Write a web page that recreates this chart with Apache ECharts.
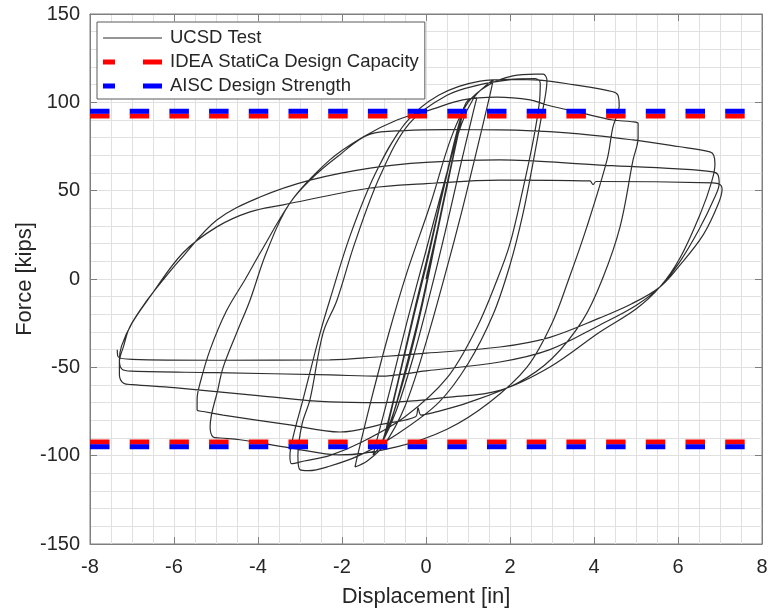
<!DOCTYPE html>
<html>
<head>
<meta charset="utf-8">
<script src="https://cdn.jsdelivr.net/npm/echarts@6/dist/echarts.min.js"></script>
<style>
  html, body { margin: 0; padding: 0; background: #ffffff; }
  #chart { width: 769px; height: 612px; }
</style>
</head>
<body>
<div id="chart"></div>
<script>
// Axis ranges and tick spacing
const xRange = [-8, 8];
const xStep = 2;
const yRange = [-150, 150];
const yStep = 50;

// Design capacity levels [kips]
const ideaCapacity = 92.2;
const aiscStrength = 95.0;

// Measured force-displacement response, [displacement in, force kips], in loading order
const elasticCycles = [
  [0, 0], [0.25, 26], [0.5, 52], [0.72, 78], [0.85, 92], [0.78, 84], [0.5, 54], [0.2, 20],
  [-0.1, -14], [-0.45, -48], [-0.75, -74], [-0.98, -89], [-0.9, -82], [-0.6, -52], [-0.3, -22],
  [0.05, 12], [0.35, 44], [0.65, 74], [0.9, 97], [0.82, 88], [0.55, 58], [0.25, 24], [-0.1, -16],
  [-0.45, -50], [-0.8, -78], [-1.05, -93], [-0.95, -85], [-0.65, -56], [-0.3, -20], [0.05, 14],
  [0.4, 50], [0.7, 80], [0.88, 95], [0.8, 86], [0.52, 55], [0.22, 22], [-0.12, -16],
  [-0.5, -52], [-0.85, -82], [-1.02, -91], [-0.92, -83], [-0.62, -54], [-0.28, -18],
  [0.08, 17], [0.42, 52], [0.72, 82], [0.92, 98]
];
const smallCycles = [
  [1.05, 102], [1.21, 102.5], [1.12, 94], [0.8, 62], [0.45, 26], [0.1, -8], [-0.3, -44],
  [-0.7, -74], [-1.05, -93], [-1.26, -99.6], [-1.18, -92], [-0.85, -62], [-0.45, -24], [0, 16],
  [0.45, 56], [0.85, 88], [1.15, 103], [1.4, 109], [1.6, 112.6], [1.52, 104], [1.2, 72],
  [0.85, 38], [0.45, 2], [0, -36], [-0.5, -72], [-1.0, -94], [-1.4, -103], [-1.69, -106.4],
  [-1.62, -99], [-1.3, -68], [-0.9, -32], [-0.45, 4]
];
const cycles3in = [
  [0.1, 42], [0.6, 80], [1.0, 100], [1.5, 110], [2.07, 115], [2.6, 116], [2.79, 116],
  [2.88, 112.6], [2.85, 105], [2.75, 92], [2.55, 66], [2.3, 36], [2.0, 8], [1.6, -20],
  [1.0, -48], [0.3, -70], [-0.7, -88], [-1.6, -100], [-2.3, -106], [-2.8, -108.5], [-3.0, -108],
  [-3.05, -100], [-2.95, -82], [-2.76, -68], [-2.45, -30.5], [-2.12, -12], [-1.7, 20],
  [-1.1, 58], [-0.4, 88], [0.5, 104], [1.29, 110], [2.07, 113], [2.6, 113.5], [2.72, 111],
  [2.7, 100], [2.55, 78], [2.3, 50], [2.0, 20], [1.7, 0], [1.2, -28], [0.5, -56], [-0.5, -78],
  [-1.5, -92], [-2.3, -100], [-2.9, -103], [-3.2, -104.5], [-3.24, -100], [-3.15, -88],
  [-2.93, -68.4], [-2.52, -30.5], [-2.29, -11.9], [-1.8, 25], [-1.2, 60], [-0.5, 88],
  [0.3, 104], [1.29, 112], [2.0, 113], [2.71, 112.6], [3.5, 110], [4.45, 106], [4.57, 104]
];
const cycles5in = [
  [4.6, 98], [4.45, 86], [4.31, 67.4], [3.83, 29.5], [3.4, 0], [3.0, -25], [2.4, -50],
  [1.5, -70], [0.5, -85], [-0.7, -95], [-2.05, -99.6], [-3.24, -95.6], [-4.43, -91],
  [-4.9, -90], [-5.07, -89.4], [-5.14, -83.7], [-4.95, -62], [-4.83, -50], [-4.5, -30],
  [-4.19, -12], [-3.8, 15], [-3.24, 43], [-2.29, 67.4], [-1.5, 80.4], [-0.69, 90], [0.1, 95.7],
  [0.88, 101.4], [1.69, 103], [2.48, 101.4], [2.88, 98.5], [3.7, 94], [4.45, 90], [4.9, 89],
  [5.05, 88], [5.05, 80], [4.93, 67.4], [4.62, 29.5], [4.2, 0], [3.74, -23], [3.0, -45],
  [2.17, -59], [1.0, -70], [0.2, -75.5], [-0.12, -77], [-0.19, -73], [-0.25, -78],
  [-1.0, -82], [-2.05, -86.6], [-3.24, -82.6], [-4.83, -77], [-5.3, -75], [-5.45, -74],
  [-5.45, -68], [-5.38, -59], [-5.14, -40], [-4.75, -18], [-4.3, 0], [-3.95, 14.7],
  [-3.24, 43], [-2.76, 56], [-2.12, 69], [-1.33, 82]
];
const cycles7in = [
  [-0.5, 84], [0.5, 84.5], [1.76, 84.4], [3.36, 82.7], [4.93, 78.7], [6.0, 75], [6.76, 72],
  [6.85, 70], [6.88, 65], [6.8, 55], [6.55, 38], [6.05, 12], [5.57, -4.5], [5.0, -17],
  [4.14, -30], [2.95, -49.8], [1.76, -63], [0.5, -67], [-1.1, -70], [-2.29, -69.6], [-4, -66],
  [-6, -61.5], [-7.0, -59.8], [-7.2, -59], [-7.3, -54], [-7.3, -47], [-7.2, -38], [-7.05, -27],
  [-6.64, -12], [-6.26, -0.5], [-5.86, 10.8], [-4.98, 33.4], [-3.95, 46.4], [-2.76, 56],
  [-1.33, 62.8], [0, 66], [1.76, 67.4], [4.14, 64.5], [6.0, 62.3], [6.83, 60.6], [6.95, 59],
  [6.98, 54], [6.85, 45], [6.5, 28], [6.05, 10], [5.57, -4.5], [5.0, -15], [4.14, -26],
  [2.95, -40], [1.76, -47], [0, -52], [-1.1, -55], [-2.29, -54.3], [-5, -53], [-7.0, -52.2],
  [-7.24, -51], [-7.3, -46], [-7.25, -38], [-7.0, -25], [-6.57, -10], [-5.79, 14.7],
  [-4.98, 29.5], [-4.19, 38], [-3.4, 42], [-1.33, 51.5], [0, 54], [1.76, 56], [3.9, 55.5],
  [3.98, 53.5], [4.05, 55.2], [6.83, 54.4], [7.0, 53.5], [7.05, 51], [6.95, 42], [6.6, 25],
  [6.05, 8], [5.57, -4.5], [4.9, -14], [4.14, -22], [2.95, -33], [1.76, -38.5], [0, -42],
  [-1.1, -44], [-2.29, -45.8], [-5, -46], [-7.0, -45.5], [-7.33, -44], [-7.35, -40]
];

const testCurve = [].concat(elasticCycles, smallCycles, cycles3in, cycles5in, cycles7in);

// Horizontal capacity lines at +/- level, split by a gap
function levelLine(v) {
  return [[xRange[0], v], [xRange[1], v], ['-', '-'], [xRange[0], -v], [xRange[1], -v]];
}

const FONT = 'Liberation Sans, Arial, Helvetica, sans-serif';
const TEXT = '#262626';
const AXIS = '#7f7f7f';
const GRID = '#e0e0e0';

// Legend keys: a thin solid stroke and two short thick dashes
const solidKey = 'path://M0,0H59V1H0Z';
const dashKey = 'path://M0,0H12V5H0ZM40,0H59V5H40Z';

const chart = echarts.init(document.getElementById('chart'), null, { renderer: 'canvas' });

const baseX = { type: 'value', min: xRange[0], max: xRange[1], interval: xStep };
const baseY = { type: 'value', min: yRange[0], max: yRange[1], interval: yStep };

chart.setOption({
  animation: false,
  backgroundColor: '#ffffff',
  grid: { left: 90, top: 14, width: 672, height: 530, containLabel: false,
          outerBoundsMode: 'none',
          show: true, borderColor: AXIS, borderWidth: 1, backgroundColor: '#ffffff' },
  legend: {
    left: 97, top: 22, orient: 'vertical',
    backgroundColor: '#ffffff', borderColor: '#5a5a5a', borderWidth: 1, borderRadius: 0,
    padding: [4, 6, 1, 6], itemGap: 0, itemWidth: 59, itemHeight: 5,
    symbolKeepAspect: true,
    textStyle: { fontSize: 18.5, color: TEXT, fontFamily: FONT, lineHeight: 24, padding: [0, 0, 0, 3] },
    data: [
      { name: 'UCSD Test', icon: solidKey, itemStyle: { color: '#2e2e2e' } },
      { name: 'IDEA StatiCa Design Capacity', icon: dashKey, itemStyle: { color: '#ff0000' } },
      { name: 'AISC Design Strength', icon: dashKey, itemStyle: { color: '#0000ff' } }
    ]
  },
  xAxis: [
    Object.assign({}, baseX, {
      position: 'bottom',
      name: 'Displacement [in]', nameLocation: 'middle', nameGap: 42, nameMoveOverlap: false,
      nameTextStyle: { fontSize: 22, color: TEXT, fontFamily: FONT },
      axisLine: { show: true, onZero: false, lineStyle: { color: AXIS, width: 1 } },
      axisTick: { show: true, inside: true, length: 7, lineStyle: { color: AXIS } },
      axisLabel: { margin: 13, fontSize: 20, color: TEXT, fontFamily: FONT },
      splitLine: { show: true, lineStyle: { color: GRID, width: 1 } },
      minorTick: { show: false, splitNumber: 4 },
      minorSplitLine: { show: true, lineStyle: { color: GRID, width: 1 } }
    }),
    Object.assign({}, baseX, {
      position: 'top',
      axisLine: { show: true, onZero: false, lineStyle: { color: AXIS, width: 1 } },
      axisTick: { show: true, inside: true, length: 7, lineStyle: { color: AXIS } },
      axisLabel: { show: false },
      splitLine: { show: false }
    })
  ],
  yAxis: [
    Object.assign({}, baseY, {
      position: 'left',
      name: 'Force [kips]', nameLocation: 'middle', nameGap: 54, nameRotate: 90, nameMoveOverlap: false,
      nameTextStyle: { fontSize: 22, color: TEXT, fontFamily: FONT },
      axisLine: { show: true, onZero: false, lineStyle: { color: AXIS, width: 1 } },
      axisTick: { show: true, inside: true, length: 7, lineStyle: { color: AXIS } },
      axisLabel: { margin: 10, fontSize: 20, color: TEXT, fontFamily: FONT },
      splitLine: { show: true, lineStyle: { color: GRID, width: 1 } },
      minorTick: { show: false, splitNumber: 5 },
      minorSplitLine: { show: true, lineStyle: { color: GRID, width: 1 } }
    }),
    Object.assign({}, baseY, {
      position: 'right',
      axisLine: { show: true, onZero: false, lineStyle: { color: AXIS, width: 1 } },
      axisTick: { show: true, inside: true, length: 7, lineStyle: { color: AXIS } },
      axisLabel: { show: false },
      splitLine: { show: false }
    })
  ],
  series: [
    {
      name: 'UCSD Test', type: 'line', xAxisIndex: 0, yAxisIndex: 0,
      data: testCurve, showSymbol: false, symbol: 'none', smooth: 0.35,
      lineStyle: { color: '#2e2e2e', width: 1.2 }, itemStyle: { color: '#2e2e2e' },
      z: 3
    },
    {
      name: 'IDEA StatiCa Design Capacity', type: 'line', xAxisIndex: 0, yAxisIndex: 0,
      data: levelLine(ideaCapacity), showSymbol: false, symbol: 'none', connectNulls: false,
      lineStyle: { color: '#ff0000', width: 5, type: [19.5, 20.2], cap: 'butt' },
      itemStyle: { color: '#ff0000' }, z: 4
    },
    {
      name: 'AISC Design Strength', type: 'line', xAxisIndex: 0, yAxisIndex: 0,
      data: levelLine(aiscStrength), showSymbol: false, symbol: 'none', connectNulls: false,
      lineStyle: { color: '#0000ff', width: 5, type: [19.5, 20.2], cap: 'butt' },
      itemStyle: { color: '#0000ff' }, z: 5
    }
  ]
});
</script>
</body>
</html>
